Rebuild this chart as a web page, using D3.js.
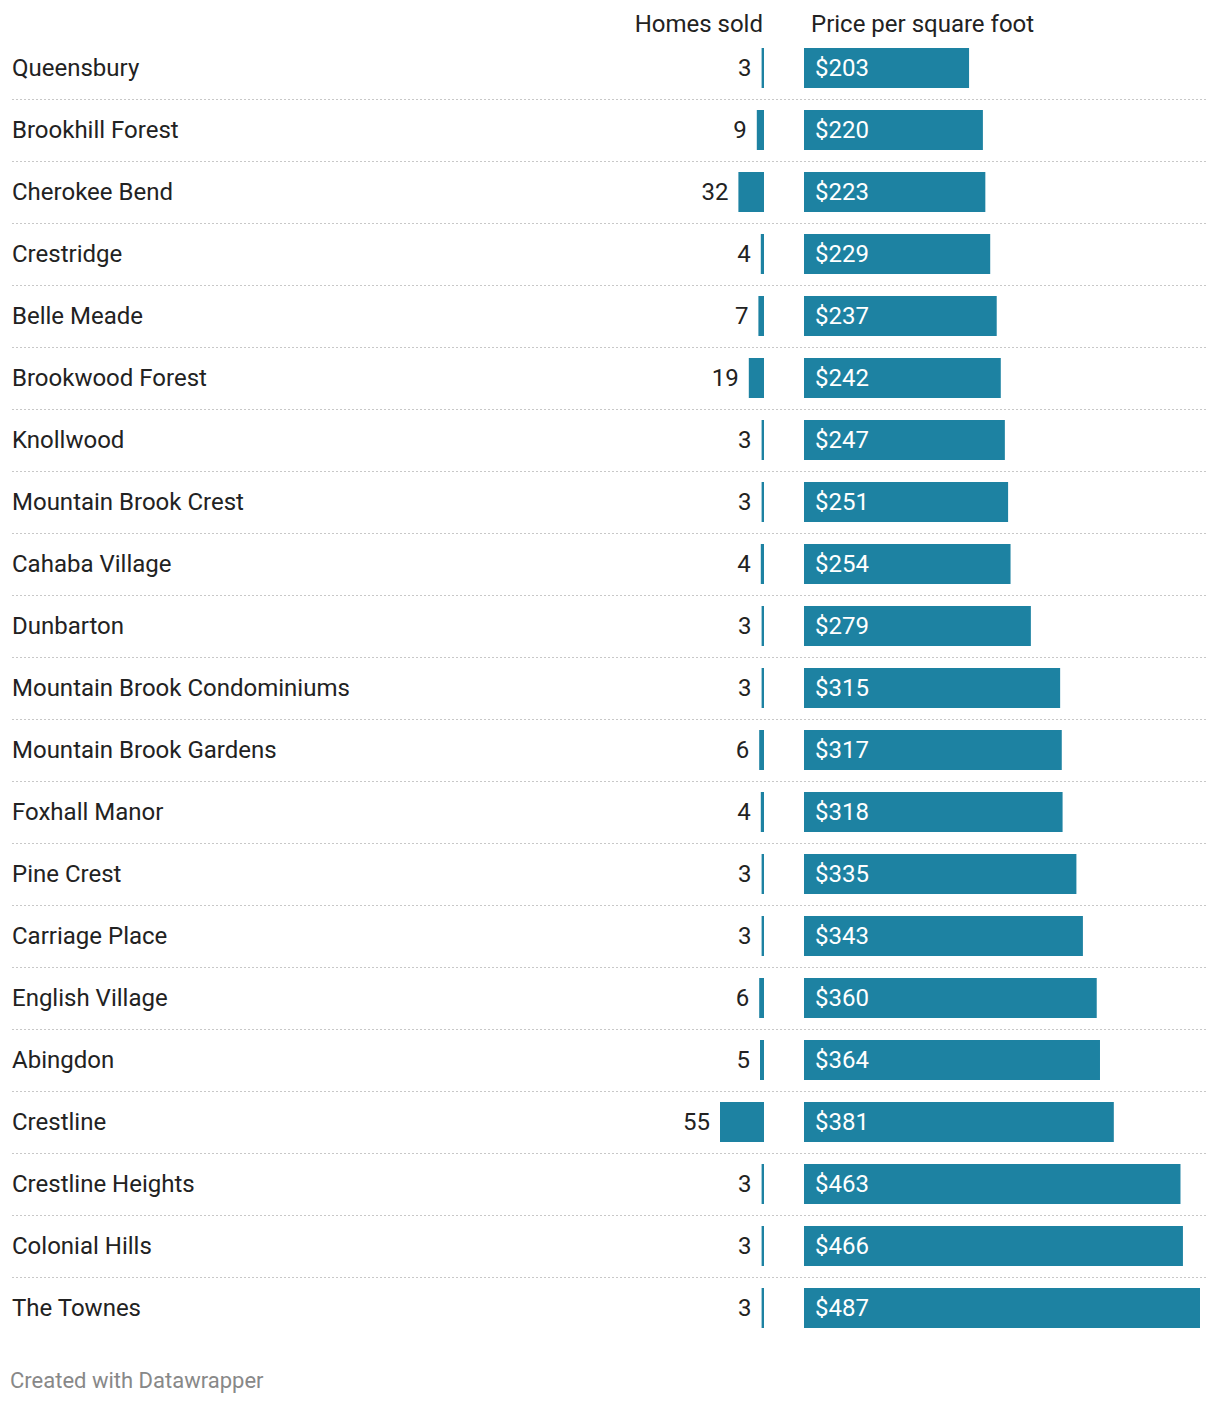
<!DOCTYPE html>
<html><head><meta charset="utf-8">
<script src="https://cdn.jsdelivr.net/npm/d3@7"></script>
<style>
body{margin:0;background:#fff;font-family:Roboto,"Noto Sans",sans-serif;}
</style></head><body>
<svg id="c" width="1220" height="1404"></svg>
<script>
const neighborhoods = ["Queensbury","Brookhill Forest","Cherokee Bend","Crestridge","Belle Meade","Brookwood Forest","Knollwood","Mountain Brook Crest","Cahaba Village","Dunbarton","Mountain Brook Condominiums","Mountain Brook Gardens","Foxhall Manor","Pine Crest","Carriage Place","English Village","Abingdon","Crestline","Crestline Heights","Colonial Hills","The Townes"];
const homesSold = [3,9,32,4,7,19,3,3,4,3,3,6,4,3,3,6,5,55,3,3,3];
const pricePerSqFt = [203,220,223,229,237,242,247,251,254,279,315,317,318,335,343,360,364,381,463,466,487];
const columnHeaders = ["Homes sold","Price per square foot"];
const footerText = "Created with Datawrapper";

const svg = d3.select("#c");
const color = "#1d82a2";
const fs = 24;

const y = d3.scaleBand().domain(d3.range(neighborhoods.length)).range([37, 37 + 62*neighborhoods.length]).padding(0);
const xHomes = d3.scaleLinear().domain([0, d3.max(homesSold)]).range([0, 44]);
const xPrice = d3.scaleLinear().domain([0, d3.max(pricePerSqFt)]).range([804, 1200]);
const homesRight = 764;
const barH = 40, barOff = 11;

// headers
svg.append("text").attr("x", 763).attr("y", 32).attr("text-anchor","end")
  .attr("font-size", fs).attr("fill","#222").text(columnHeaders[0]);
svg.append("text").attr("x", 811).attr("y", 32)
  .attr("font-size", fs).attr("fill","#222").text(columnHeaders[1]);

const rows = svg.selectAll("g.row").data(neighborhoods).join("g").attr("class","row");

// separators
rows.filter((d,i)=>i < neighborhoods.length-1).append("line")
  .attr("x1", 12).attr("x2", 1208)
  .attr("y1", (d,i)=>y(i)+y.step()+0.5).attr("y2",(d,i)=>y(i)+y.step()+0.5)
  .attr("stroke","#c8c8c8").attr("stroke-width",1).attr("stroke-dasharray","2,2");

rows.append("text").attr("x", 12).attr("y",(d,i)=>y(i)+barOff+barH/2)
  .attr("dy","0.35em").attr("font-size", fs).attr("fill","#222").text(d=>d);

// homes sold bars
rows.append("rect")
  .attr("x",(d,i)=>homesRight - xHomes(homesSold[i]))
  .attr("y",(d,i)=>y(i)+barOff).attr("height",barH)
  .attr("width",(d,i)=>xHomes(homesSold[i])).attr("fill",color);
rows.append("text")
  .attr("x",(d,i)=>homesRight - xHomes(homesSold[i]) - 10)
  .attr("y",(d,i)=>y(i)+barOff+barH/2).attr("dy","0.35em")
  .attr("text-anchor","end").attr("font-size",fs).attr("fill","#222")
  .text((d,i)=>homesSold[i]);

// price bars
rows.append("rect")
  .attr("x", xPrice(0)).attr("y",(d,i)=>y(i)+barOff).attr("height",barH)
  .attr("width",(d,i)=>xPrice(pricePerSqFt[i]) - xPrice(0)).attr("fill",color);
rows.append("text")
  .attr("x", xPrice(0)+11).attr("y",(d,i)=>y(i)+barOff+barH/2).attr("dy","0.35em")
  .attr("font-size",fs).attr("fill","#fff")
  .text((d,i)=>"$"+pricePerSqFt[i]);

svg.append("text").attr("x",10).attr("y",1388).attr("font-size",22).attr("fill","#888").text(footerText);
</script>
</body></html>
